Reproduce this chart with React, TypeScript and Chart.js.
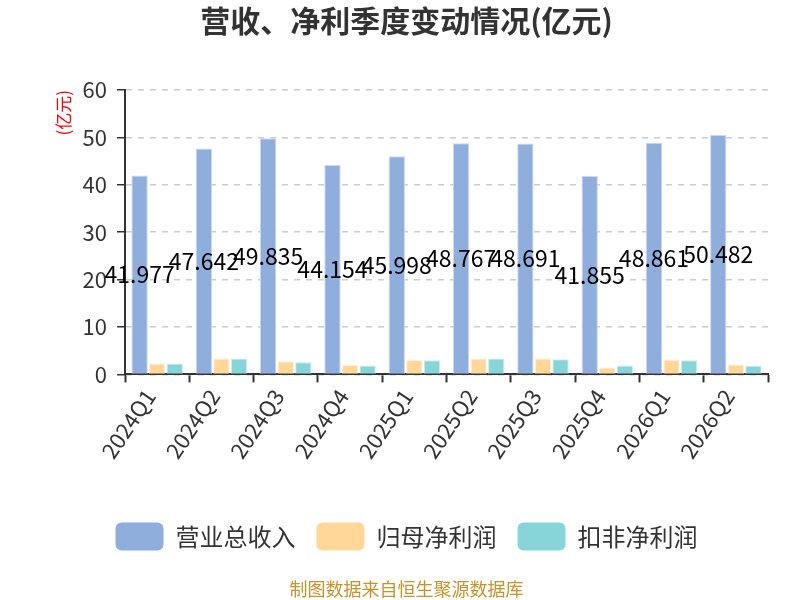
import React, { useEffect, useRef } from "react";
import { Chart, registerables } from "chart.js";

Chart.register(...registerables);

const FONT = "'Noto Sans CJK SC', 'Noto Sans', sans-serif";

const quarters = [
  "2024Q1", "2024Q2", "2024Q3", "2024Q4", "2025Q1",
  "2025Q2", "2025Q3", "2025Q4", "2026Q1", "2026Q2",
];
const revenue = [41.977, 47.642, 49.835, 44.154, 45.998, 48.767, 48.691, 41.855, 48.861, 50.482];
const netProfit = [2.32, 3.38, 2.75, 1.97, 3.03, 3.38, 3.38, 1.48, 3.1, 2.11];
const deductedProfit = [2.3, 3.38, 2.54, 1.9, 2.96, 3.38, 3.17, 1.9, 2.96, 1.83];
const yTicks = [0, 10, 20, 30, 40, 50, 60];

// value labels in the middle of the revenue bars
const centerLabels = {
  id: "centerLabels",
  afterDatasetsDraw(chart: any) {
    const { ctx } = chart;
    const meta = chart.getDatasetMeta(0);
    ctx.save();
    ctx.font = `23px ${FONT}`;
    ctx.fillStyle = "#000";
    ctx.textAlign = "center";
    ctx.textBaseline = "middle";
    meta.data.forEach((bar: any, i: number) => {
      const y = (bar.y + bar.base) / 2;
      ctx.fillText(revenue[i].toFixed(3), bar.x, y);
    });
    ctx.restore();
  },
};

export default function App() {
  const canvasRef = useRef<HTMLCanvasElement>(null);

  useEffect(() => {
    if (!canvasRef.current) return;
    const chart = new Chart(canvasRef.current, {
      type: "bar",
      data: {
        labels: quarters,
        datasets: [
          { label: "营业总收入", data: revenue, backgroundColor: "#8faedc", borderColor: "#c9d8ef", borderWidth: 1 },
          { label: "归母净利润", data: netProfit, backgroundColor: "#ffd899", borderColor: "#fff0d6", borderWidth: 1 },
          { label: "扣非净利润", data: deductedProfit, backgroundColor: "#88d5d9", borderColor: "#c8eef0", borderWidth: 1 },
        ],
      },
      options: {
        animation: false,
        responsive: false,
        devicePixelRatio: 1,
        categoryPercentage: 0.82,
        barPercentage: 0.93,
        layout: { padding: { left: 45, right: 32, top: 0, bottom: 0 } },
        plugins: {
          tooltip: { enabled: false },
          title: {
            display: true,
            text: "营收、净利季度变动情况(亿元)",
            color: "#333",
            font: { family: FONT, size: 30, weight: "bold" },
            padding: { top: 3, bottom: 51 },
          },
          subtitle: {
            display: true,
            position: "bottom",
            text: "制图数据来自恒生聚源数据库",
            color: "#c8922a",
            font: { family: FONT, size: 18 },
            padding: { top: 18, bottom: 0 },
          },
          legend: {
            position: "bottom",
            labels: {
              boxWidth: 48,
              boxHeight: 28,
              useBorderRadius: true,
              borderRadius: 6,
              padding: 21,
              color: "#333",
              font: { family: FONT, size: 24 },
              generateLabels(c: any) {
                return c.data.datasets.map((d: any, i: number) => ({
                  text: d.label,
                  fillStyle: d.backgroundColor,
                  strokeStyle: d.backgroundColor,
                  lineWidth: 0,
                  borderRadius: 6,
                  fontColor: "#333",
                  datasetIndex: i,
                  hidden: false,
                }));
              },
            },
          },
        },
        scales: {
          x: {
            grid: {
              display: true,
              drawOnChartArea: false,
              drawTicks: true,
              tickLength: 8,
              tickWidth: 2,
              tickColor: "#333",
              offset: true,
            },
            border: { display: true, color: "#333", width: 2 },
            ticks: {
              color: "#333",
              font: { family: FONT, size: 22 },
              maxRotation: 56,
              minRotation: 56,
              padding: 2,
              labelOffset: -7,
            },
            afterFit(scale: any) {
              scale.height = 127;
            },
          },
          y: {
            min: 0,
            max: 60,
            afterBuildTicks(scale: any) {
              scale.ticks = yTicks.map((v) => ({ value: v }));
            },
            afterFit(scale: any) {
              scale.width = 80;
            },
            grid: {
              color: "#cccccc",
              lineWidth: 1.5,
              tickLength: 8,
              tickColor: "#333",
            },
            border: { display: true, color: "#333", width: 2, dash: [6, 6] },
            ticks: {
              color: "#333",
              font: { family: FONT, size: 22 },
              padding: 10,
            },
            title: {
              display: true,
              text: "(亿元)",
              align: "end",
              color: "#ff0000",
              font: { family: FONT, size: 17 },
              padding: { top: 8, bottom: 0 },
            },
          },
        },
      },
      plugins: [centerLabels],
    });
    return () => chart.destroy();
  }, []);

  return (
    <div style={{ position: "absolute", left: 0, top: 0, width: 800, height: 600, background: "#fff" }}>
      <canvas ref={canvasRef} width={800} height={600} />
    </div>
  );
}
